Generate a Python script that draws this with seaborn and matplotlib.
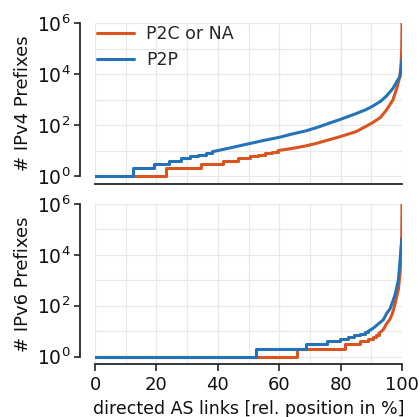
import numpy as np
import pandas as pd
import matplotlib
matplotlib.use("Agg")
import matplotlib.pyplot as plt
import matplotlib.ticker as mticker
import seaborn as sns

# ---------------- data ----------------
# IPv4, P2C or NA (orange)
v4_p2c_step_x = [0, 23.1, 34.5, 41.7, 46.6, 50.5, 53.0, 55.4, 57.5, 59.6]
v4_p2c_step_y = [1, 2, 3, 4, 5, 6, 7, 8, 9, 10]
v4_p2c_curve_x = [59.6, 64, 68.4, 72, 76, 79.8, 85, 90.1, 93, 95, 97, 98.3, 99.3, 99.7, 99.9, 100]
v4_p2c_curve_y = [10, 12, 15, 19, 26, 35, 55, 117, 200, 400, 950, 2750, 8000, 27000, 100000, 1000000]

# IPv4, P2P (blue)
v4_p2p_step_x = [0, 12.5, 19.3, 24.2, 27.9, 31.0, 33.6, 36.0, 38.2]
v4_p2p_step_y = [1, 2, 3, 4, 5, 6, 7, 8, 9]
v4_p2p_curve_x = [38.2, 40, 45, 50.5, 55, 60, 64, 68.4, 72, 76, 79.8, 85, 88, 90.1, 93, 95, 97, 98.3, 99.3, 99.7, 100]
v4_p2p_curve_y = [9, 10, 13.5, 19, 25, 33, 44, 58, 78, 115, 165, 280, 390, 520, 850, 1400, 2700, 5000, 8000, 15000, 40000]

# IPv6, P2C or NA (orange)
v6_p2c_step_x = [0, 65.7, 81.4, 86.3, 89.0, 90.6, 91.6, 92.4]
v6_p2c_step_y = [1, 2, 3, 4, 5, 6, 7, 8]
v6_p2c_curve_x = [92.4, 93.9, 95, 96.1, 97, 97.7, 98.8, 99.3, 99.7, 99.9, 100]
v6_p2c_curve_y = [8, 11.5, 20, 30, 55, 115, 425, 1600, 10000, 60000, 1000000]

# IPv6, P2P (blue)
v6_p2p_step_x = [0, 52.4, 68.7, 75.7, 79.8, 82.4, 84.5, 86.3, 87.8, 89.0]
v6_p2p_step_y = [1, 2, 3, 4, 5, 6, 7, 8, 9, 10]
v6_p2p_curve_x = [89.0, 90.6, 92, 93.9, 95, 96.1, 97.7, 98.8, 99.3, 99.7, 100]
v6_p2p_curve_y = [10, 13, 18, 28, 50, 75, 260, 1000, 5000, 20000, 45000]

series_labels = ["P2C or NA", "P2P"]
panel_ylabels = ["# IPv4 Prefixes", "# IPv6 Prefixes"]
xlabel = "directed AS links [rel. position in %]"
xticks = [0, 20, 40, 60, 80, 100]
xminor = [10, 30, 50, 70, 90]
yticks = [1, 1e2, 1e4, 1e6]
yminor = [10, 1e3, 1e5]

colors = {"P2C or NA": "#d9541e", "P2P": "#2473b6"}

# ---------------- plotting ----------------
sns.set_theme(style="ticks")
plt.rcParams["font.family"] = ["DejaVu Sans"]

fig = plt.figure(figsize=(4.2, 4.17), dpi=100)
ax_top = fig.add_axes([0.2262, 0.5588, 0.731, 0.386])
ax_bot = fig.add_axes([0.2262, 0.1259, 0.731, 0.385])

panels = [
    (ax_top, [(v4_p2c_step_x, v4_p2c_step_y, v4_p2c_curve_x, v4_p2c_curve_y),
              (v4_p2p_step_x, v4_p2p_step_y, v4_p2p_curve_x, v4_p2p_curve_y)]),
    (ax_bot, [(v6_p2c_step_x, v6_p2c_step_y, v6_p2c_curve_x, v6_p2c_curve_y),
              (v6_p2p_step_x, v6_p2p_step_y, v6_p2p_curve_x, v6_p2p_curve_y)]),
]

lw = 2.2
for pi, (ax, sers) in enumerate(panels):
    for label, (sx, sy, cx, cy) in zip(series_labels, sers):
        c = colors[label]
        sns.lineplot(x=sx, y=sy, ax=ax, color=c, lw=lw, drawstyle="steps-post",
                     sort=False, estimator=None, legend=False)
        sns.lineplot(x=cx, y=cy, ax=ax, color=c, lw=lw, sort=False, estimator=None,
                     label=label if pi == 0 else None, legend=(pi == 0))
    ax.set_yscale("log")
    ax.set_xlim(0, 100)
    ax.set_ylim(0.49, 1e6)
    ax.yaxis.set_major_locator(mticker.FixedLocator(yticks))
    ax.yaxis.set_minor_locator(mticker.FixedLocator(yminor))
    ax.yaxis.set_minor_formatter(mticker.NullFormatter())
    ax.xaxis.set_major_locator(mticker.FixedLocator(xticks))
    ax.xaxis.set_minor_locator(mticker.FixedLocator(xminor))
    ax.grid(True, which="both", color="#e8e8e8", lw=0.9)
    ax.set_axisbelow(True)
    ax.tick_params(axis="y", which="major", labelsize=13.5, length=4.5, width=1.2,
                   color="#262626", labelcolor="#111111", pad=2.5)
    ax.tick_params(axis="both", which="minor", length=0)
    ax.set_ylabel(panel_ylabels[pi], fontsize=13, color="#111111", labelpad=3)
    for s in ["top", "right"]:
        ax.spines[s].set_visible(False)
    ax.spines["left"].set_position(("outward", 10.8))
    ax.spines["left"].set_bounds(1, 1e6)
    for s in ["left", "bottom"]:
        ax.spines[s].set_color("#262626")
        ax.spines[s].set_linewidth(1.3)

# top panel: no x ticks / labels
ax_top.tick_params(axis="x", which="major", length=0, labelbottom=False)
ax_top.set_xlabel("")

# bottom panel x axis
ax_bot.tick_params(axis="x", which="major", labelsize=13, length=5, width=1.2,
                   color="#262626", labelcolor="#111111")
ax_bot.spines["bottom"].set_bounds(0, 100)
ax_bot.set_xlabel(xlabel, fontsize=12.5, color="#111111")

handles, labels = ax_top.get_legend_handles_labels()
ax_top.legend(handles, labels, loc="upper left", bbox_to_anchor=(0, 1),
              frameon=False, fontsize=12.5, borderaxespad=0, borderpad=0.1,
              handlelength=2.15, handletextpad=0.7, labelspacing=0.5)

fig.savefig("out.png", dpi=100)
